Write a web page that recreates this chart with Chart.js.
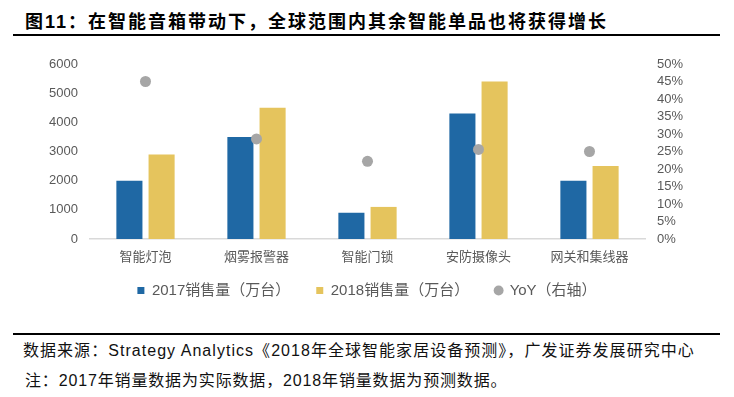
<!DOCTYPE html>
<html>
<head>
<meta charset="utf-8">
<script src="https://cdn.jsdelivr.net/npm/chart.js@4"></script>
<style>
  html, body { margin:0; padding:0; background:#fff; }
  body { width:734px; height:397px; position:relative; overflow:hidden;
         font-family:"Liberation Sans","Noto Sans CJK SC",sans-serif; }
  #title { position:absolute; left:25px; top:12px; font-size:18px; line-height:20px;
           font-weight:bold; color:#000; letter-spacing:2px; white-space:nowrap; }
  .rule { position:absolute; left:13px; width:707px; height:2px; background:#000; }
  #wrap { position:absolute; left:0; top:40px; width:734px; height:268px; }
  .foot { position:absolute; left:23px; font-size:16px; line-height:18px; color:#111;
          white-space:nowrap; }
</style>
</head>
<body>
<div id="title">图11：在智能音箱带动下，全球范围内其余智能单品也将获得增长</div>
<div class="rule" style="top:34px"></div>
<div id="wrap"><canvas id="c"></canvas></div>
<div class="rule" style="top:333px"></div>
<div class="foot" style="top:342px;letter-spacing:1.04px">数据来源：Strategy Analytics《2018年全球智能家居设备预测》，广发证券发展研究中心</div>
<div class="foot" style="top:372px;left:25px;letter-spacing:0.85px">注：2017年销量数据为实际数据，2018年销量数据为预测数据。</div>
<script>
const categories = ['智能灯泡', '烟雾报警器', '智能门锁', '安防摄像头', '网关和集线器'];
const sales2017 = [2000, 3500, 900, 4300, 2000];
const sales2018 = [2900, 4500, 1100, 5400, 2500];
const yoyPct = [45, 28.6, 22.2, 25.6, 25];
const leftTicks = [0, 1000, 2000, 3000, 4000, 5000, 6000];
const rightTicks = [0, 5, 10, 15, 20, 25, 30, 35, 40, 45, 50];
const seriesNames = ['2017销售量（万台）', '2018销售量（万台）', 'YoY（右轴）'];

const FONT = '"Liberation Sans","Noto Sans CJK SC",sans-serif';
const TXT = '#595959';

new Chart(document.getElementById('c'), {
  data: {
    labels: categories,
    datasets: [
      { type:'bar', label:seriesNames[0], data:sales2017, backgroundColor:'#1f68a4',
        yAxisID:'y', order:1, pointStyle:'rect',
        categoryPercentage:0.58, barPercentage:0.81 },
      { type:'bar', label:seriesNames[1], data:sales2018, backgroundColor:'#e5c45d',
        yAxisID:'y', order:1, pointStyle:'rect',
        categoryPercentage:0.58, barPercentage:0.81 },
      { type:'line', label:seriesNames[2], data:yoyPct, showLine:false,
        backgroundColor:'#a6a6a6', borderColor:'#a6a6a6', pointRadius:5.5,
        pointHoverRadius:5.5, pointBorderWidth:0, pointStyle:'circle',
        yAxisID:'y1', order:0 }
    ]
  },
  options: {
    responsive:true, maintainAspectRatio:false, animation:false,
    layout:{ padding:{ top:24, left:0, right:0, bottom:0 } },
    plugins:{
      tooltip:{ enabled:false },
      legend:{
        position:'bottom',
        labels:{ usePointStyle:true, boxWidth:7, boxHeight:7, padding:26,
                 color:TXT, font:{ family:FONT, size:15 },
                 sort:(a,b)=> a.datasetIndex - b.datasetIndex }
      }
    },
    scales:{
      x:{
        grid:{ display:false, drawTicks:false },
        border:{ display:true, color:'#d9d9d9', width:1.5 },
        ticks:{ color:TXT, padding:11, font:{ family:FONT, size:13 } },
        afterFit:(s)=>{ s.height = 18; s._computeLabelArea = function(){ return undefined; }; }
      },
      y:{
        position:'left', min:0, max:6000,
        afterBuildTicks:(s)=>{ s.ticks = leftTicks.map(v=>({value:v})); },
        grid:{ display:false, drawTicks:false },
        border:{ display:false },
        ticks:{ color:TXT, padding:12, autoSkip:false, font:{ family:FONT, size:13 },
                callback:(v)=> String(v) },
        afterFit:(s)=>{ s.width = 90; }
      },
      y1:{
        position:'right', min:0, max:50,
        afterBuildTicks:(s)=>{ s.ticks = rightTicks.map(v=>({value:v})); },
        grid:{ display:false, drawTicks:false },
        border:{ display:false },
        ticks:{ color:TXT, padding:12, autoSkip:false, font:{ family:FONT, size:13 },
                callback:(v)=> v + '%' },
        afterFit:(s)=>{ s.width = 89; }
      }
    }
  }
});
</script>
</body>
</html>
